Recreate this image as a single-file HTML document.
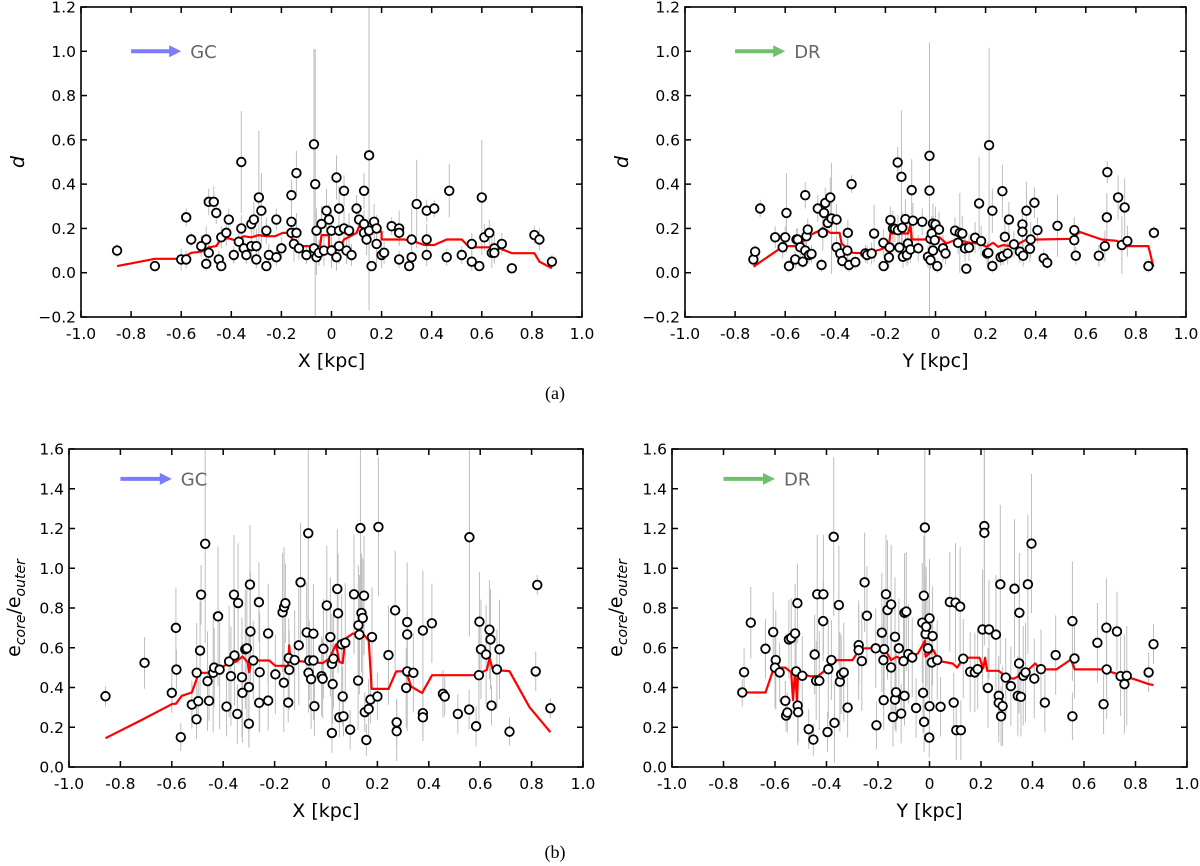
<!DOCTYPE html>
<html><head><meta charset="utf-8"><style>
html,body{margin:0;padding:0;background:#fff;}
svg{display:block;font-family:"DejaVu Sans","Liberation Sans",sans-serif;}
</style></head><body>
<svg id="fig" width="1200" height="866" viewBox="0 0 1200 866" xmlns="http://www.w3.org/2000/svg">
<text x="555" y="399" font-family="Liberation Serif, serif" font-size="18" text-anchor="middle">(a)</text>
<text x="555" y="858" font-family="Liberation Serif, serif" font-size="18" text-anchor="middle">(b)</text>
</svg>
<script>
// ===== Panel A1 (X vs d) =====
const a1X=[-0.856,-0.705,-0.60,-0.58,-0.58,-0.56,-0.52,-0.50,-0.50,-0.49,-0.49,-0.47,-0.46,-0.45,-0.44,-0.44,-0.42,-0.41,-0.39,-0.37,-0.36,-0.36,-0.35,-0.34,-0.32,-0.32,-0.31,-0.30,-0.30,-0.29,-0.28,-0.26,-0.26,-0.25,-0.22,-0.22,-0.20,-0.16,-0.16,-0.16,-0.14,-0.14,-0.15,-0.13,-0.10,-0.07,-0.065,-0.06,-0.07,-0.06,-0.05,-0.04,-0.03,-0.02,-0.01,0.00,0.00,0.02,0.02,0.03,0.03,0.03,0.05,0.05,0.06,0.07,0.07,0.08,0.10,0.11,0.13,0.13,0.13,0.14,0.15,0.15,0.16,0.17,0.18,0.18,0.20,0.21,0.24,0.27,0.27,0.27,0.31,0.32,0.32,0.34,0.38,0.38,0.38,0.41,0.46,0.47,0.52,0.56,0.56,0.59,0.60,0.61,0.63,0.64,0.65,0.65,0.68,0.72,0.81,0.83,0.88];
const a1Y=[0.10,0.03,0.06,0.06,0.25,0.15,0.12,0.15,0.04,0.09,0.32,0.32,0.27,0.06,0.03,0.16,0.18,0.24,0.08,0.14,0.50,0.20,0.11,0.08,0.12,0.22,0.24,0.06,0.12,0.34,0.28,0.19,0.03,0.08,0.24,0.07,0.11,0.23,0.18,0.35,0.45,0.18,0.13,0.11,0.08,0.58,0.40,0.19,0.11,0.07,0.09,0.22,0.10,0.28,0.24,0.19,0.10,0.43,0.07,0.12,0.29,0.19,0.20,0.37,0.10,0.19,0.19,0.08,0.29,0.24,0.18,0.37,0.22,0.15,0.53,0.19,0.03,0.23,0.13,0.20,0.08,0.09,0.21,0.20,0.18,0.06,0.03,0.15,0.07,0.31,0.28,0.15,0.08,0.29,0.07,0.37,0.08,0.05,0.13,0.03,0.34,0.16,0.18,0.09,0.11,0.09,0.13,0.02,0.17,0.15,0.05];
const a1E=[0.03,0.02,0.05,0.04,0.04,0.03,0.05,0.06,0.03,0.06,0.06,0.07,0.05,0.04,0.02,0.05,0.06,0.05,0.04,0.05,0.23,0.06,0.05,0.04,0.07,0.04,0.08,0.04,0.08,0.30,0.17,0.06,0.02,0.05,0.05,0.04,0.05,0.06,0.07,0.07,0.10,0.09,0.08,0.05,0.04,0.43,0.61,0.10,0.06,0.08,0.06,0.08,0.07,0.10,0.07,0.09,0.08,0.10,0.06,0.08,0.10,0.14,0.09,0.07,0.06,0.05,0.08,0.05,0.06,0.07,0.05,0.08,0.06,0.07,0.70,0.09,0.02,0.08,0.10,0.06,0.06,0.05,0.04,0.08,0.05,0.04,0.02,0.14,0.04,0.20,0.05,0.07,0.05,0.04,0.04,0.12,0.04,0.04,0.05,0.02,0.26,0.06,0.06,0.07,0.06,0.05,0.05,0.02,0.04,0.05,0.03];
const a1LX=[-0.856,-0.705,-0.6,-0.56,-0.52,-0.49,-0.46,-0.44,-0.41,-0.38,-0.35,-0.32,-0.29,-0.26,-0.225,-0.195,-0.165,-0.15,-0.10,-0.045,-0.04,-0.01,-0.01,0.0,0.035,0.05,0.10,0.11,0.14,0.18,0.2,0.2,0.29,0.32,0.37,0.41,0.46,0.52,0.55,0.66,0.72,0.81,0.83,0.88];
const a1LY=[0.03,0.063,0.063,0.09,0.095,0.115,0.12,0.155,0.155,0.145,0.165,0.16,0.17,0.165,0.165,0.18,0.18,0.12,0.12,0.12,0.17,0.17,0.115,0.12,0.12,0.15,0.18,0.21,0.19,0.185,0.185,0.15,0.15,0.145,0.125,0.125,0.15,0.15,0.115,0.115,0.088,0.088,0.05,0.02];

// ===== Panel A2 (Y vs d) =====
const a2X=[-0.727,-0.72,-0.70,-0.64,-0.61,-0.60,-0.595,-0.585,-0.56,-0.555,-0.55,-0.54,-0.53,-0.52,-0.52,-0.515,-0.51,-0.505,-0.495,-0.47,-0.455,-0.45,-0.445,-0.44,-0.43,-0.42,-0.415,-0.395,-0.395,-0.38,-0.372,-0.352,-0.35,-0.345,-0.335,-0.32,-0.28,-0.273,-0.255,-0.245,-0.207,-0.208,-0.186,-0.183,-0.18,-0.17,-0.162,-0.151,-0.15,-0.144,-0.136,-0.133,-0.13,-0.12,-0.114,-0.11,-0.10,-0.095,-0.09,-0.069,-0.053,-0.03,-0.024,-0.024,-0.02,-0.02,-0.015,-0.01,-0.01,-0.003,0.0,0.007,0.014,0.03,0.04,0.078,0.09,0.097,0.107,0.118,0.123,0.134,0.158,0.174,0.182,0.206,0.211,0.214,0.227,0.227,0.26,0.27,0.267,0.277,0.288,0.293,0.313,0.337,0.347,0.347,0.35,0.363,0.377,0.38,0.395,0.407,0.432,0.446,0.487,0.554,0.554,0.56,0.652,0.676,0.684,0.686,0.729,0.744,0.755,0.766,0.85,0.872];
const a2Y=[0.06,0.095,0.29,0.16,0.115,0.16,0.27,0.03,0.06,0.15,0.15,0.115,0.05,0.10,0.35,0.165,0.195,0.08,0.085,0.29,0.035,0.18,0.27,0.315,0.225,0.34,0.245,0.24,0.115,0.087,0.053,0.10,0.18,0.035,0.40,0.048,0.087,0.08,0.087,0.177,0.03,0.135,0.069,0.114,0.238,0.20,0.198,0.498,0.192,0.114,0.433,0.203,0.072,0.242,0.08,0.132,0.105,0.373,0.235,0.11,0.23,0.072,0.528,0.371,0.057,0.153,0.177,0.10,0.222,0.147,0.218,0.03,0.195,0.11,0.087,0.19,0.135,0.18,0.177,0.11,0.018,0.113,0.158,0.313,0.143,0.087,0.09,0.576,0.03,0.28,0.07,0.075,0.368,0.162,0.087,0.24,0.128,0.095,0.218,0.185,0.077,0.28,0.108,0.15,0.316,0.192,0.065,0.045,0.212,0.192,0.147,0.077,0.077,0.12,0.25,0.454,0.34,0.125,0.295,0.143,0.03,0.18];
const a2E=[0.03,0.03,0.04,0.05,0.05,0.05,0.18,0.03,0.04,0.05,0.05,0.05,0.03,0.06,0.06,0.05,0.05,0.04,0.04,0.06,0.03,0.08,0.06,0.07,0.06,0.09,0.25,0.07,0.05,0.05,0.03,0.06,0.06,0.03,0.04,0.03,0.04,0.04,0.05,0.13,0.02,0.06,0.05,0.06,0.06,0.08,0.06,0.07,0.07,0.06,0.30,0.07,0.05,0.09,0.05,0.09,0.06,0.14,0.08,0.06,0.06,0.05,0.07,0.67,0.04,0.07,0.08,0.06,0.09,0.07,0.08,0.03,0.08,0.06,0.05,0.06,0.05,0.18,0.08,0.06,0.02,0.06,0.07,0.21,0.07,0.05,0.05,0.44,0.03,0.10,0.04,0.04,0.12,0.08,0.05,0.08,0.06,0.05,0.05,0.08,0.05,0.13,0.06,0.08,0.07,0.06,0.04,0.03,0.14,0.06,0.08,0.04,0.05,0.07,0.11,0.05,0.10,0.13,0.13,0.07,0.03,0.03];
const a2LX=[-0.727,-0.62,-0.6,-0.54,-0.515,-0.46,-0.45,-0.42,-0.383,-0.375,-0.33,-0.277,-0.22,-0.186,-0.18,-0.11,-0.1,-0.095,-0.036,-0.01,0.016,0.043,0.083,0.136,0.176,0.203,0.23,0.25,0.27,0.31,0.363,0.41,0.55,0.574,0.663,0.723,0.763,0.85,0.87];
const a2LY=[0.027,0.11,0.12,0.12,0.162,0.192,0.203,0.18,0.18,0.132,0.09,0.087,0.105,0.12,0.177,0.177,0.215,0.15,0.15,0.16,0.16,0.132,0.15,0.135,0.132,0.117,0.135,0.117,0.125,0.117,0.15,0.15,0.153,0.185,0.15,0.144,0.12,0.12,0.027];

// ===== Panel B1 (X vs ecore/eouter) =====
const b1X=[-0.858,-0.706,-0.60,-0.584,-0.582,-0.565,-0.522,-0.504,-0.503,-0.497,-0.49,-0.486,-0.47,-0.461,-0.455,-0.439,-0.435,-0.42,-0.414,-0.387,-0.377,-0.37,-0.358,-0.356,-0.345,-0.342,-0.327,-0.325,-0.314,-0.308,-0.30,-0.30,-0.296,-0.294,-0.283,-0.261,-0.26,-0.258,-0.225,-0.225,-0.197,-0.169,-0.164,-0.163,-0.158,-0.147,-0.145,-0.143,-0.122,-0.106,-0.099,-0.075,-0.069,-0.068,-0.065,-0.058,-0.049,-0.049,-0.045,-0.017,-0.013,-0.01,0.003,0.017,0.023,0.026,0.023,0.029,0.044,0.047,0.052,0.061,0.065,0.068,0.075,0.094,0.109,0.125,0.126,0.13,0.134,0.138,0.143,0.148,0.151,0.157,0.166,0.173,0.179,0.20,0.204,0.243,0.269,0.275,0.275,0.312,0.316,0.316,0.316,0.34,0.377,0.377,0.377,0.412,0.455,0.462,0.513,0.557,0.558,0.584,0.595,0.597,0.603,0.623,0.636,0.64,0.644,0.665,0.675,0.714,0.816,0.822,0.873];
const b1Y=[0.356,0.524,0.373,0.70,0.49,0.15,0.314,0.24,0.474,0.331,0.586,0.867,1.123,0.432,0.333,0.474,0.50,0.758,0.49,0.304,0.531,0.457,0.867,0.561,0.267,0.825,0.452,0.373,0.592,0.597,0.402,0.218,0.918,0.682,0.536,0.829,0.323,0.477,0.334,0.672,0.466,0.778,0.424,0.805,0.824,0.324,0.548,0.489,0.538,0.612,0.929,0.677,1.176,0.474,0.536,0.442,0.671,0.536,0.306,0.457,0.444,0.595,0.813,0.654,0.519,0.417,0.171,0.545,0.896,0.773,0.25,0.617,0.355,0.255,0.625,0.188,0.869,0.435,0.713,0.666,1.202,0.775,0.75,0.862,0.276,0.136,0.292,0.339,0.654,0.355,1.208,0.563,0.788,0.225,0.18,0.398,0.667,0.729,0.481,0.474,0.687,0.271,0.25,0.723,0.368,0.355,0.267,0.289,1.156,0.205,0.462,0.731,0.592,0.566,0.691,0.642,0.309,0.491,0.592,0.178,0.481,0.916,0.296];
const b1E=[0.05,0.13,0.1,0.2,0.1,0.07,0.12,0.1,0.25,0.1,0.25,0.15,0.5,0.25,0.1,0.3,0.2,0.35,0.3,0.15,0.28,0.25,0.3,0.25,0.15,0.3,0.3,0.25,0.3,0.35,0.3,0.12,0.3,0.3,0.2,0.2,0.15,0.3,0.15,0.25,0.2,0.3,0.25,0.3,0.2,0.1,0.2,0.2,0.25,0.3,0.3,0.25,0.5,0.2,0.2,0.25,0.25,0.3,0.15,0.2,0.2,0.25,0.3,0.3,0.25,0.2,0.1,0.25,0.3,0.3,0.1,0.25,0.15,0.1,0.3,0.1,0.3,0.25,0.3,0.3,0.45,0.3,0.3,0.3,0.1,0.08,0.15,0.12,0.25,0.12,0.35,0.25,0.3,0.12,0.15,0.2,0.25,0.3,0.3,0.2,0.3,0.12,0.12,0.2,0.12,0.1,0.1,0.1,0.5,0.1,0.25,0.25,0.25,0.25,0.25,0.25,0.1,0.2,0.25,0.07,0.1,0.05,0.05];
const b1LX=[-0.858,-0.714,-0.597,-0.584,-0.561,-0.522,-0.494,-0.455,-0.416,-0.377,-0.351,-0.325,-0.305,-0.299,-0.292,-0.221,-0.197,-0.148,-0.143,-0.138,-0.013,0.013,0.039,0.052,0.065,0.075,0.104,0.143,0.166,0.178,0.243,0.273,0.312,0.331,0.374,0.413,0.584,0.626,0.636,0.649,0.714,0.792,0.873];
const b1LY=[0.145,0.239,0.318,0.318,0.358,0.375,0.474,0.474,0.494,0.524,0.529,0.556,0.528,0.477,0.536,0.536,0.509,0.509,0.612,0.536,0.523,0.545,0.617,0.528,0.523,0.645,0.671,0.671,0.637,0.393,0.393,0.481,0.481,0.405,0.373,0.462,0.462,0.489,0.55,0.489,0.482,0.301,0.175];

// ===== Panel B2 (Y vs ecore/eouter) =====
const b2X=[-0.727,-0.72,-0.694,-0.637,-0.607,-0.597,-0.60,-0.582,-0.56,-0.557,-0.552,-0.546,-0.537,-0.522,-0.518,-0.513,-0.512,-0.51,-0.494,-0.469,-0.451,-0.446,-0.44,-0.436,-0.428,-0.412,-0.413,-0.396,-0.393,-0.381,-0.372,-0.369,-0.352,-0.348,-0.343,-0.333,-0.318,-0.275,-0.275,-0.263,-0.252,-0.243,-0.209,-0.206,-0.185,-0.179,-0.178,-0.176,-0.169,-0.163,-0.149,-0.149,-0.142,-0.134,-0.134,-0.13,-0.119,-0.11,-0.101,-0.097,-0.097,-0.09,-0.082,-0.067,-0.052,-0.028,-0.025,-0.022,-0.021,-0.018,-0.015,-0.013,-0.006,-0.001,0.0,0.0,0.009,0.012,0.03,0.043,0.079,0.094,0.101,0.104,0.119,0.122,0.131,0.158,0.176,0.187,0.206,0.213,0.213,0.227,0.231,0.258,0.269,0.269,0.275,0.278,0.284,0.296,0.316,0.33,0.343,0.348,0.349,0.355,0.364,0.373,0.382,0.396,0.407,0.433,0.448,0.49,0.555,0.555,0.563,0.652,0.676,0.687,0.688,0.728,0.742,0.757,0.766,0.851,0.87];
const b2Y=[0.375,0.477,0.726,0.595,0.679,0.538,0.50,0.476,0.333,0.259,0.274,0.642,0.649,0.672,0.481,0.824,0.309,0.276,0.459,0.19,0.138,0.566,0.434,0.869,0.434,0.869,0.734,0.176,0.492,0.538,1.158,0.222,0.815,0.429,0.466,0.476,0.299,0.613,0.588,0.533,0.929,0.761,0.597,0.21,0.676,0.538,0.336,0.593,0.869,0.79,0.818,0.501,0.252,0.655,0.339,0.376,0.597,0.269,0.533,0.358,0.776,0.782,0.568,0.551,0.297,0.726,0.373,0.862,0.227,1.205,0.669,0.706,0.597,0.148,0.748,0.306,0.526,0.659,0.538,0.303,0.83,0.324,0.827,0.185,0.807,0.185,0.545,0.479,0.476,0.492,0.692,1.212,1.178,0.398,0.692,0.666,0.358,0.323,0.919,0.255,0.306,0.45,0.407,0.897,0.358,0.521,0.776,0.353,0.459,0.476,0.919,1.124,0.445,0.492,0.324,0.563,0.734,0.255,0.546,0.625,0.316,0.701,0.491,0.682,0.457,0.417,0.459,0.476,0.618];
const b2E=[0.07,0.12,0.18,0.15,0.2,0.25,0.2,0.15,0.1,0.08,0.1,0.2,0.2,0.25,0.2,0.2,0.2,0.15,0.2,0.1,0.08,0.2,0.2,0.3,0.25,0.3,0.2,0.1,0.25,0.2,0.4,0.2,0.3,0.25,0.2,0.25,0.15,0.2,0.25,0.25,0.25,0.25,0.2,0.12,0.3,0.25,0.15,0.25,0.3,0.35,0.3,0.25,0.15,0.3,0.15,0.2,0.25,0.15,0.25,0.15,0.3,0.3,0.25,0.2,0.15,0.3,0.2,0.3,0.15,0.6,0.3,0.3,0.25,0.1,0.3,0.15,0.2,0.25,0.2,0.15,0.25,0.15,0.3,0.15,0.3,0.15,0.2,0.2,0.2,0.2,0.3,0.6,0.5,0.2,0.25,0.3,0.2,0.2,0.4,0.15,0.2,0.2,0.2,0.35,0.2,0.25,0.3,0.2,0.25,0.25,0.35,0.35,0.2,0.2,0.15,0.2,0.3,0.12,0.2,0.2,0.15,0.25,0.25,0.2,0.2,0.25,0.25,0.1,0.1];
const b2LX=[-0.727,-0.637,-0.604,-0.56,-0.537,-0.53,-0.522,-0.515,-0.51,-0.466,-0.433,-0.358,-0.299,-0.269,-0.209,-0.172,-0.149,-0.127,-0.104,-0.045,-0.018,-0.015,0.015,0.037,0.09,0.107,0.127,0.149,0.194,0.209,0.216,0.224,0.269,0.299,0.328,0.373,0.41,0.433,0.493,0.549,0.564,0.672,0.806,0.851,0.87];
const b2LY=[0.375,0.375,0.50,0.50,0.476,0.336,0.487,0.336,0.476,0.457,0.457,0.538,0.538,0.597,0.597,0.588,0.538,0.555,0.538,0.571,0.635,0.555,0.588,0.533,0.521,0.5,0.538,0.55,0.55,0.496,0.55,0.484,0.484,0.45,0.445,0.476,0.521,0.491,0.491,0.541,0.491,0.491,0.437,0.417,0.412];

const xTickVals=[-1.0,-0.8,-0.6,-0.4,-0.2,0,0.2,0.4,0.6,0.8,1.0];
const xTickLabels=["-1.0","-0.8","-0.6","-0.4","-0.2","0","0.2","0.4","0.6","0.8","1.0"];
const aYTickVals=[-0.2,0.0,0.2,0.4,0.6,0.8,1.0,1.2];
const aYTickLabels=["\u22120.2","0.0","0.2","0.4","0.6","0.8","1.0","1.2"];
const bYTickVals=[0.0,0.2,0.4,0.6,0.8,1.0,1.2,1.4,1.6];
const bYTickLabels=["0.0","0.2","0.4","0.6","0.8","1.0","1.2","1.4","1.6"];

const NS="http://www.w3.org/2000/svg";
const svg=document.getElementById('fig');
function mk(tag,attrs,parent){const e=document.createElementNS(NS,tag);for(const k in attrs)e.setAttribute(k,attrs[k]);(parent||svg).appendChild(e);return e;}

function panel(cfg){
  const g=mk('g',{});
  
  
  const L=cfg.l,R=cfg.r,T=cfg.t,B=cfg.b;
  const sx=v=>L+(v-(-1))/2*(R-L);
  const sy=v=>B-(v-cfg.ymin)/(cfg.ymax-cfg.ymin)*(B-T);
  const clip='clip-'+cfg.name;
  const cp=mk('clipPath',{id:clip},g);mk('rect',{x:L,y:T,width:R-L,height:B-T},cp);
  const data=mk('g',{'clip-path':'url(#'+clip+')'},g);
  // error bars
  for(let i=0;i<cfg.xs.length;i++){
    const eb=mk('line',{x1:sx(cfg.xs[i]),x2:sx(cfg.xs[i]),y1:sy(cfg.ys[i]-cfg.es[i]),y2:sy(cfg.ys[i]+cfg.es[i]),stroke:'#bdbdbd','stroke-width':1},data);
    
    
  }
  // red running line
  let d='';
  for(let i=0;i<cfg.lx.length;i++)d+=(i?'L':'M')+sx(cfg.lx[i]).toFixed(1)+' '+sy(cfg.ly[i]).toFixed(1);
  const ln=mk('path',{d:d,fill:'none',stroke:'#ff0000','stroke-width':2.2,'stroke-linejoin':'round'},data);
  
  
  // points
  for(let i=0;i<cfg.xs.length;i++){
    const c=mk('circle',{cx:sx(cfg.xs[i]),cy:sy(cfg.ys[i]),r:4.3,fill:'#fff',stroke:'#000','stroke-width':1.8},data);
    
    
  }
  // frame
  const fr=mk('rect',{x:L,y:T,width:R-L,height:B-T,fill:'none',stroke:'#000','stroke-width':1.6},g);
  
  
  // x ticks
  xTickVals.forEach((v,i)=>{
    const x=sx(v);
    mk('line',{x1:x,x2:x,y1:B,y2:B-6,stroke:'#000','stroke-width':1.5},g);
    mk('line',{x1:x,x2:x,y1:T,y2:T+6,stroke:'#000','stroke-width':1.5},g);
    const t=mk('text',{x:x,y:B+22,'font-size':15.5,'text-anchor':'middle'},g);
    t.textContent=xTickLabels[i];
    
    
  });
  cfg.yt.forEach((v,i)=>{
    const y=sy(v);
    mk('line',{x1:L,x2:L+6,y1:y,y2:y,stroke:'#000','stroke-width':1.5},g);
    mk('line',{x1:R,x2:R-6,y1:y,y2:y,stroke:'#000','stroke-width':1.5},g);
    const t=mk('text',{x:L-5,y:y+5.5,'font-size':15.5,'text-anchor':'end'},g);
    t.textContent=cfg.ytl[i];
    
    
  });
  // x axis title
  const xt=mk('text',{x:(L+R)/2,y:B+50,'font-size':19,'text-anchor':'middle'},g);
  xt.textContent=cfg.xlabel;
  
  
  // y axis title
  const yc=(T+B)/2;
  const yt=mk('text',{x:cfg.ylx,y:yc,'font-size':19,'text-anchor':'middle',transform:'rotate(-90 '+cfg.ylx+' '+yc+')'},g);
  
  
  if(cfg.ylabel==='d'){yt.setAttribute('font-style','italic');yt.textContent='d';}
  else{
    const a=mk('tspan',{},yt);a.textContent='e';
    const b=mk('tspan',{'font-style':'italic','font-size':14,dy:5},yt);b.textContent='core';
    const c=mk('tspan',{dy:-5},yt);c.textContent='/e';
    const e=mk('tspan',{'font-style':'italic','font-size':14,dy:5},yt);e.textContent='outer';
  }
  // direction arrow
  const ay=sy(cfg.arrowY),ax1=sx(-0.8),ax2=sx(-0.6);
  const ag=mk('g',{},g);
  
  
  mk('line',{x1:ax1,y1:ay,x2:ax2-9,y2:ay,stroke:cfg.arrowColor,'stroke-width':4},ag);
  mk('polygon',{points:(ax2-12)+','+(ay-6)+' '+ax2+','+ay+' '+(ax2-12)+','+(ay+6),fill:cfg.arrowColor},ag);
  const at=mk('text',{x:ax2+9,y:ay+6.5,'font-size':18,fill:'#666'},g);
  at.textContent=cfg.arrowText;
  
  
}

panel({name:'panel-a-x',l:81,r:582,t:7,b:317,ymin:-0.2,ymax:1.2,xs:a1X,ys:a1Y,es:a1E,lx:a1LX,ly:a1LY,yt:aYTickVals,ytl:aYTickLabels,xlabel:'X [kpc]',ylabel:'d',ylx:24,arrowY:1.0,arrowColor:'#7b7bff',arrowText:'GC'});
panel({name:'panel-a-y',l:685,r:1186,t:7,b:317,ymin:-0.2,ymax:1.2,xs:a2X,ys:a2Y,es:a2E,lx:a2LX,ly:a2LY,yt:aYTickVals,ytl:aYTickLabels,xlabel:'Y [kpc]',ylabel:'d',ylx:628,arrowY:1.0,arrowColor:'#6fbf6f',arrowText:'DR'});
panel({name:'panel-b-x',l:69,r:583,t:449,b:767,ymin:0,ymax:1.6,xs:b1X,ys:b1Y,es:b1E,lx:b1LX,ly:b1LY,yt:bYTickVals,ytl:bYTickLabels,xlabel:'X [kpc]',ylabel:'e',ylx:20,arrowY:1.45,arrowColor:'#7b7bff',arrowText:'GC'});
panel({name:'panel-b-y',l:672,r:1187,t:449,b:767,ymin:0,ymax:1.6,xs:b2X,ys:b2Y,es:b2E,lx:b2LX,ly:b2LY,yt:bYTickVals,ytl:bYTickLabels,xlabel:'Y [kpc]',ylabel:'e',ylx:622,arrowY:1.45,arrowColor:'#6fbf6f',arrowText:'DR'});
</script>
</body></html>
